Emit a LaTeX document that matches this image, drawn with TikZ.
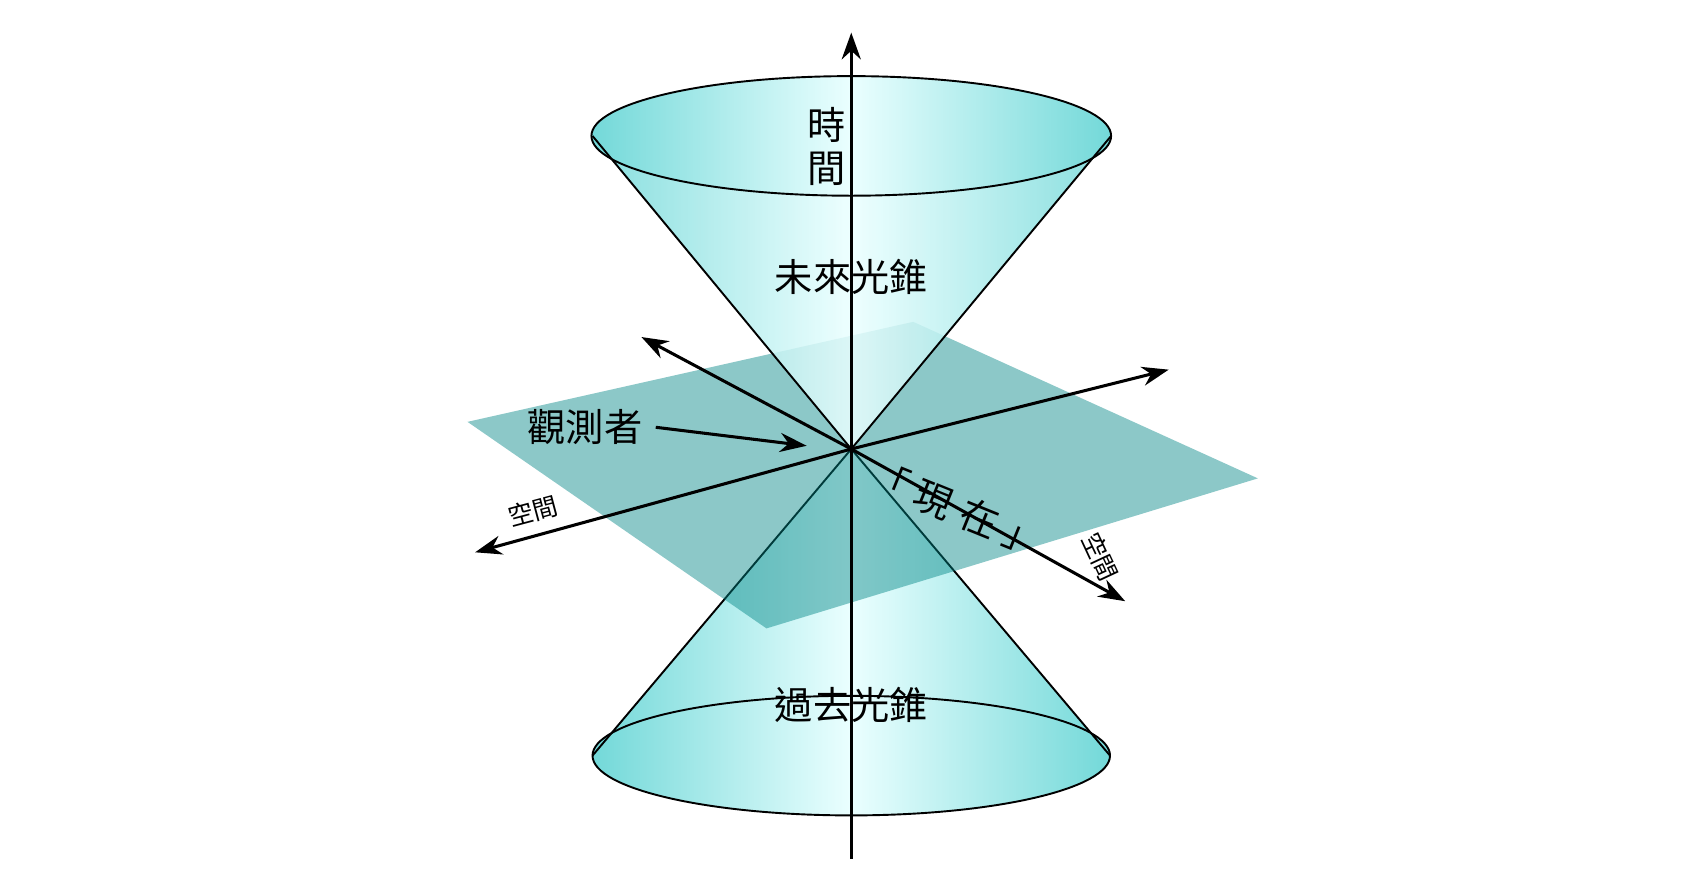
\documentclass[tikz,border=0pt]{standalone}
\usepackage{fontspec}
\newfontfamily\cjk{Noto Sans CJK TC}
\usetikzlibrary{arrows.meta}
\begin{document}
\begin{tikzpicture}[x=0.01cm,y=-0.01cm,
  ax/.style={-{Stealth[length=7pt,width=5pt]},line width=0.8pt},
  conefill/.style={left color=cyan!45!teal!55, right color=cyan!45!teal!55, middle color=cyan!8},
  lab/.style={font=\cjk\fontsize{10}{12}\selectfont},
  sm/.style={font=\cjk\fontsize{6.5}{7}\selectfont}]
\useasboundingbox (0,0) rectangle (1560,817);
\coordinate (O) at (783,413);
% bottom cone
\path[conefill] (545,695) -- (O) -- (1021,695) -- cycle;
\path[conefill] (783,695) ellipse[x radius=238,y radius=55];
\draw[line width=0.5pt] (545,695) -- (O) -- (1021,695);
\draw[line width=0.5pt] (783,695) ellipse[x radius=238,y radius=55];
% plane
\fill[teal!70!cyan!80!black,opacity=0.45] (430,388) -- (840,296) -- (1157,440) -- (705,578) -- cycle;
% top cone
\path[conefill,opacity=0.85] (545,125) -- (O) -- (1022,125) -- cycle;
\path[conefill] (783,125) ellipse[x radius=239,y radius=55];
\draw[line width=0.5pt] (545,125) -- (O) -- (1022,125);
\draw[line width=0.5pt] (783,125) ellipse[x radius=239,y radius=55];
% axes
\coordinate (t0) at (783,790); \coordinate (t1) at (783,30);
\draw[ax] (t0) -- (t1);
\coordinate (a0) at (590,310); \coordinate (a1) at (1035,553);
\draw[ax] (O) -- (a0); \draw[ax] (O) -- (a1);
\coordinate (b0) at (437,508); \coordinate (b1) at (1075,340);
\draw[ax] (O) -- (b0); \draw[ax] (O) -- (b1);
% labels
\node[lab] (t) at (760,115) {時};
\node[lab] (t2) at (760,155) {間};
\node[lab] (f) at (783,255) {未來光錐};
\node[lab] (p) at (783,648) {過去光錐};
\node[lab] (obs) at (538,393) {觀測者};
\coordinate (oa) at (742,410);
\draw[ax] (obs.east) -- (oa);
\node[lab,rotate=-22] (now) at (880,468) {「\hspace{0.25em}現\hspace{0.3em}在\hspace{0.25em}」};
\node[sm,rotate=15] (s1) at (490,470) {空間};
\node[sm,rotate=-65] (s2) at (1012,512) {空間};
\end{tikzpicture}
\end{document}
